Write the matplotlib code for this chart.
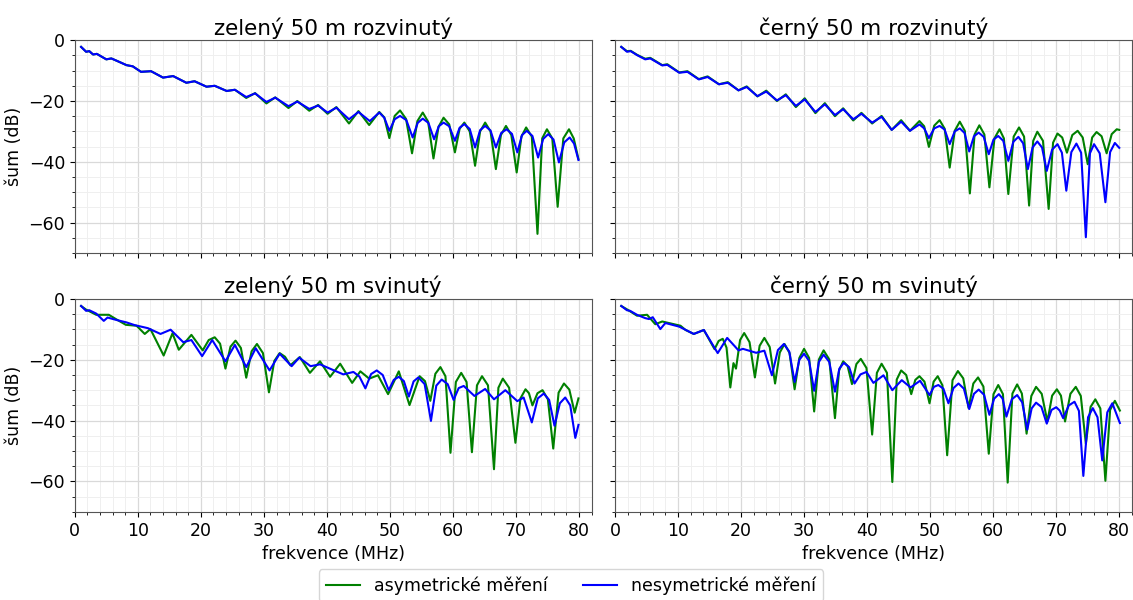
import matplotlib.pyplot as plt
from matplotlib.ticker import AutoMinorLocator, MultipleLocator

# --- data (frequency in MHz, noise in dB) ---
titles = ['zelený 50 m rozvinutý', 'černý 50 m rozvinutý',
          'zelený 50 m svinutý', 'černý 50 m svinutý']
labels = ['asymetrické měření', 'nesymetrické měření']

# zelený rozvinutý
tl_asym_x = [1.0, 1.8, 2.3, 2.9, 3.5, 5.0, 5.8, 6.8, 8.2, 9.2, 10.5, 12.1, 14.0, 15.6, 17.7, 19.0,
             20.9, 22.2, 24.1, 25.4, 27.2, 28.6, 30.4, 31.8, 33.9, 35.3, 37.2, 38.6, 40.1, 41.5,
             43.5, 45.0, 46.7, 48.3, 49.1, 49.9, 50.75, 51.6, 52.55, 53.5, 54.35, 55.2, 56.05,
             56.9, 57.7, 58.5, 59.4, 60.3, 61.05, 61.8, 62.65, 63.5, 64.3, 65.1, 65.95, 66.8,
             67.6, 68.4, 69.25, 70.1, 70.85, 71.6, 72.5, 73.4, 74.15, 74.9, 75.75, 76.6, 77.5,
             78.4, 79.15, 79.9]
tl_asym = [-2.2, -3.8, -3.6, -4.7, -4.5, -6.3, -6.0, -6.9, -8.2, -8.6, -10.4, -10.2, -12.3, -11.8,
           -14.0, -13.5, -15.3, -15.0, -16.7, -16.3, -19.0, -17.4, -20.8, -18.8, -22.3, -20.0,
           -23.2, -21.3, -24.2, -22.0, -27.4, -23.3, -27.9, -23.6, -25.4, -32.2, -24.9, -23.1,
           -25.9, -37.2, -26.6, -23.8, -26.8, -38.9, -28.5, -25.5, -27.7, -36.9, -29.1, -27.1,
           -30.0, -41.3, -30.0, -27.1, -30.0, -42.4, -31.2, -28.2, -31.2, -43.5, -31.7, -28.7,
           -31.7, -63.7, -32.3, -29.3, -32.3, -54.8, -32.3, -29.3, -32.3, -39.1]
tl_nesym_x = [1.0, 1.8, 2.3, 2.9, 3.5, 5.0, 5.8, 6.8, 8.2, 9.2, 10.5, 12.1, 14.0, 15.6, 17.7, 19.0,
              20.9, 22.2, 24.1, 25.4, 27.2, 28.6, 30.4, 31.8, 33.9, 35.3, 37.2, 38.6, 40.1, 41.5,
              43.5, 45.0, 46.8, 48.3, 49.1, 49.9, 50.75, 51.6, 52.6, 53.6, 54.4, 55.2, 56.1,
              57.0, 57.75, 58.5, 59.4, 60.3, 61.05, 61.8, 62.65, 63.5, 64.3, 65.1, 65.95, 66.8,
              67.65, 68.5, 69.35, 70.2, 70.95, 71.7, 72.6, 73.5, 74.3, 75.1, 75.95, 76.8, 77.65,
              78.5, 79.2, 79.9]
tl_nesym = [-2.2, -3.8, -3.6, -4.7, -4.5, -6.3, -6.0, -6.9, -8.2, -8.6, -10.4, -10.2, -12.3, -11.8,
            -14.0, -13.5, -15.3, -15.0, -16.7, -16.3, -18.7, -17.5, -20.3, -18.9, -21.7, -20.2,
            -22.6, -21.5, -23.8, -22.2, -26.0, -23.6, -26.6, -23.8, -25.5, -29.8, -26.0, -24.9,
            -26.3, -32.0, -27.2, -25.8, -27.2, -32.6, -28.3, -27.1, -28.3, -33.1, -28.8, -27.6,
            -29.2, -35.3, -29.6, -28.2, -29.7, -35.3, -30.5, -29.3, -30.8, -36.9, -31.2, -29.8,
            -31.5, -38.6, -32.5, -30.9, -32.7, -40.2, -33.6, -32.0, -34.0, -39.4]

# černý rozvinutý
tr_asym_x = [1.0, 1.9, 2.5, 3.5, 4.8, 5.6, 7.5, 8.3, 10.2, 11.5, 13.3, 14.7, 16.5, 17.9, 19.6,
             20.9, 22.6, 24.0, 25.7, 27.1, 28.7, 30.1, 31.8, 33.3, 34.9, 36.2, 37.8, 39.1, 40.8,
             42.3, 43.9, 45.4, 46.8, 48.3, 49.05, 49.8, 50.65, 51.5, 52.3, 53.1, 53.9, 54.7, 55.5,
             56.3, 57.05, 57.8, 58.6, 59.4, 60.2, 61.0, 61.7, 62.4, 63.25, 64.1, 64.9, 65.7,
             66.35, 67.0, 67.9, 68.8, 69.5, 70.2, 70.95, 71.7, 72.55, 73.4, 74.2, 75.0, 75.7,
             76.4, 77.2, 78.0, 78.8, 79.6, 80.0]
tr_asym = [-2.2, -3.6, -3.5, -4.8, -6.1, -5.8, -8.2, -7.9, -10.6, -10.2, -12.8, -11.9, -14.5, -13.8,
           -16.5, -15.2, -18.5, -16.6, -20.0, -17.8, -22.0, -19.1, -24.0, -20.7, -25.0, -22.4,
           -26.4, -23.9, -27.4, -24.9, -29.5, -26.3, -29.8, -26.6, -28.3, -35.1, -28.1, -26.3,
           -29.1, -41.9, -29.8, -26.8, -29.8, -50.4, -31.0, -28.0, -31.0, -48.4, -32.3, -29.3,
           -32.3, -50.6, -31.7, -28.7, -31.7, -54.4, -33.1, -30.1, -33.1, -55.5, -33.7, -30.7,
           -32.0, -37.0, -31.2, -29.8, -32.0, -40.8, -32.0, -30.2, -31.6, -37.2, -30.9, -29.3,
           -29.5]
tr_nesym_x = [1.0, 1.9, 2.5, 3.5, 4.8, 5.6, 7.5, 8.3, 10.2, 11.5, 13.3, 14.7, 16.5, 17.9, 19.6,
              20.9, 22.6, 24.0, 25.7, 27.1, 28.7, 30.1, 31.8, 33.3, 34.9, 36.2, 37.8, 39.1, 40.8,
              42.3, 43.9, 45.4, 46.8, 48.3, 49.05, 49.8, 50.65, 51.5, 52.3, 53.1, 53.9, 54.7,
              55.45, 56.2, 56.95, 57.7, 58.5, 59.3, 60.05, 60.8, 61.6, 62.4, 63.2, 64.0, 64.75,
              65.5, 66.25, 67.0, 67.75, 68.5, 69.35, 70.2, 70.9, 71.6, 72.4, 73.2, 73.95, 74.7,
              75.35, 76.0, 76.9, 77.8, 78.55, 79.3, 80.0]
tr_nesym = [-2.2, -3.8, -3.6, -4.9, -6.3, -6.0, -8.3, -8.1, -10.7, -10.4, -12.9, -12.1, -14.5, -14.0,
            -16.5, -15.4, -18.4, -16.9, -19.8, -18.1, -21.6, -19.5, -23.6, -21.1, -24.6, -22.7,
            -26.0, -24.2, -27.1, -25.2, -29.5, -26.8, -29.8, -27.7, -29.0, -32.2, -29.0, -28.2,
            -29.4, -34.2, -30.0, -29.0, -30.5, -36.6, -31.6, -30.4, -31.8, -37.5, -32.7, -31.5,
            -33.1, -39.7, -33.4, -31.8, -33.9, -42.4, -35.3, -33.3, -35.3, -43.0, -36.0, -34.2,
            -37.0, -49.5, -36.8, -34.0, -37.0, -64.8, -37.2, -34.2, -37.2, -53.3, -36.8, -33.8,
            -35.4]

# zelený svinutý
bl_asym_x = [1.0, 1.8, 3.4, 5.4, 6.6, 8.1, 9.8, 11.1, 12.0, 14.1, 15.5, 16.5, 18.5, 20.3, 21.25,
             22.2, 23.05, 23.9, 24.7, 25.5, 26.35, 27.2, 28.05, 28.9, 29.85, 30.8, 31.65, 32.5,
             33.35, 34.2, 35.7, 37.3, 38.9, 40.5, 42.1, 44.0, 45.3, 46.7, 48.1, 49.7, 51.4, 53.1,
             54.7, 55.55, 56.4, 57.2, 58.0, 58.8, 59.6, 60.45, 61.3, 62.15, 63.0, 63.8, 64.6,
             65.55, 66.5, 67.2, 67.9, 68.9, 69.9, 70.7, 71.5, 72.05, 72.6, 73.4, 74.2, 75.05,
             75.9, 76.75, 77.6, 78.45, 79.3, 79.9]
bl_asym = [-2.3, -3.5, -5.2, -5.2, -6.7, -8.5, -8.8, -11.5, -9.9, -18.6, -11.3, -16.7, -11.8,
           -16.9, -13.5, -12.6, -14.7, -22.9, -15.7, -13.7, -16.1, -25.9, -17.2, -14.8, -17.8,
           -30.7, -20.4, -17.8, -19.0, -21.8, -19.1, -24.3, -20.5, -25.6, -21.3, -27.6, -23.8,
           -26.2, -25.1, -31.3, -23.8, -34.9, -25.4, -27.0, -33.5, -24.6, -22.4, -25.4, -50.6,
           -27.3, -24.3, -27.3, -50.4, -28.4, -25.4, -28.4, -56.0, -29.2, -26.2, -29.2, -47.3,
           -32.7, -29.7, -31.0, -35.0, -31.0, -30.0, -33.0, -49.2, -30.8, -27.8, -29.8, -37.4,
           -32.7]
bl_nesym_x = [1.0, 1.8, 2.3, 3.4, 4.6, 5.2, 6.6, 8.2, 9.5, 11.6, 13.6, 15.2, 17.2, 18.5, 20.2,
              21.8, 23.9, 25.4, 27.2, 28.7, 30.9, 32.5, 34.4, 35.6, 37.4, 38.9, 40.8, 42.6, 44.2,
              45.15, 46.1, 47.0, 47.9, 48.85, 49.8, 50.6, 51.4, 52.2, 53.0, 53.75, 54.5, 55.5,
              56.5, 57.35, 58.2, 59.15, 60.1, 60.9, 61.7, 63.4, 65.1, 66.5, 68.3, 70.2, 71.2,
              72.5, 73.45, 74.4, 75.25, 76.1, 76.95, 77.8, 78.6, 79.4, 79.9]
bl_nesym = [-2.3, -3.9, -3.7, -4.8, -7.2, -6.1, -6.9, -7.7, -8.6, -9.6, -11.5, -10.1, -14.2, -13.5,
            -18.8, -13.5, -20.5, -15.1, -22.4, -16.2, -23.5, -18.0, -22.1, -19.3, -22.1, -21.5,
            -23.2, -24.8, -24.0, -25.5, -29.4, -24.7, -23.5, -25.0, -30.0, -26.6, -25.6, -27.0,
            -32.1, -27.1, -25.8, -28.0, -40.1, -28.5, -26.5, -28.0, -33.2, -29.3, -28.6, -31.9,
            -29.6, -33.0, -30.0, -33.6, -32.4, -40.6, -32.7, -31.1, -33.2, -41.7, -34.3, -32.4,
            -35.0, -45.7, -41.4]

# černý svinutý
br_asym_x = [1.0, 1.9, 3.5, 5.1, 6.4, 7.5, 10.4, 11.2, 12.5, 14.1, 15.8, 16.45, 17.1, 17.7, 18.3,
             18.8, 19.2, 19.85, 20.5, 21.35, 22.2, 22.95, 23.7, 24.55, 25.4, 26.15, 26.9, 27.7,
             28.5, 29.25, 30.0, 30.8, 31.6, 32.35, 33.1, 34.0, 34.9, 35.55, 36.2, 36.9, 37.6,
             38.3, 39.0, 39.9, 40.8, 41.55, 42.3, 43.15, 44.0, 44.7, 45.4, 46.2, 47.0, 47.65,
             48.3, 49.1, 49.9, 50.55, 51.2, 51.95, 52.7, 53.55, 54.4, 55.25, 56.1, 56.85, 57.6,
             58.45, 59.3, 60.05, 60.8, 61.55, 62.3, 63.05, 63.8, 64.55, 65.3, 66.05, 66.8, 67.7,
             68.6, 69.35, 70.1, 70.75, 71.4, 72.25, 73.1, 73.9, 74.7, 75.45, 76.2, 77.0, 77.8,
             78.55, 79.3, 80.1]
br_asym = [-2.3, -3.4, -5.5, -5.2, -8.3, -7.4, -8.8, -10.2, -11.5, -10.2, -16.5, -13.8, -13.1,
           -16.0, -29.1, -21.1, -22.9, -13.5, -11.2, -14.2, -25.8, -15.4, -12.8, -15.8, -27.8,
           -17.6, -14.8, -17.8, -29.7, -19.4, -16.4, -19.4, -37.0, -19.9, -16.9, -19.9, -39.2,
           -23.5, -20.5, -22.0, -28.0, -21.4, -19.7, -22.7, -44.6, -24.3, -21.3, -24.3, -60.2,
           -26.5, -23.5, -25.0, -31.3, -26.6, -25.4, -27.2, -34.3, -27.2, -25.4, -28.4, -51.4,
           -26.7, -23.7, -26.1, -35.9, -27.8, -25.8, -28.8, -50.9, -31.3, -28.3, -31.3, -60.4,
           -31.1, -28.1, -31.1, -44.3, -31.9, -28.9, -31.2, -40.3, -31.8, -29.7, -31.8, -40.3,
           -31.2, -28.9, -31.9, -47.6, -35.5, -33.0, -36.0, -59.8, -36.5, -33.5, -36.7]
br_nesym_x = [1.0, 1.9, 2.4, 3.5, 4.8, 5.4, 6.0, 7.2, 8.0, 10.2, 12.5, 14.1, 16.3, 17.8, 19.6,
              20.3, 22.4, 23.7, 24.9, 25.85, 26.8, 27.65, 28.5, 29.25, 30.0, 30.8, 31.6, 32.35,
              33.1, 34.0, 34.9, 35.6, 36.3, 37.15, 38.0, 38.95, 39.9, 41.0, 42.6, 44.0, 45.5,
              46.9, 48.4, 49.9, 50.6, 51.3, 52.1, 52.9, 53.7, 54.5, 55.35, 56.2, 56.95, 57.7,
              58.55, 59.4, 60.15, 60.9, 61.5, 62.1, 62.95, 63.8, 64.6, 65.4, 66.1, 66.8, 67.65,
              68.5, 69.25, 70.0, 70.55, 71.1, 72.0, 72.9, 73.6, 74.3, 75.05, 75.8, 76.55, 77.3,
              78.1, 78.9, 80.1]
br_nesym = [-2.3, -3.7, -3.9, -5.2, -6.3, -6.6, -6.0, -9.9, -7.9, -9.1, -11.5, -10.2, -17.8, -12.8,
            -16.9, -16.4, -17.7, -17.0, -25.1, -16.8, -14.8, -17.3, -27.3, -20.0, -18.0, -20.4,
            -30.2, -20.7, -18.3, -20.7, -30.5, -22.9, -21.0, -22.4, -27.8, -24.8, -24.0, -27.6,
            -25.1, -30.0, -26.7, -29.1, -26.9, -31.6, -28.9, -28.3, -29.5, -34.3, -29.3, -27.8,
            -29.5, -36.2, -31.2, -29.8, -31.5, -38.1, -32.8, -31.3, -32.8, -38.7, -33.0, -31.6,
            -34.0, -43.0, -36.0, -34.1, -35.5, -41.0, -36.5, -35.6, -36.7, -39.2, -35.0, -33.8,
            -36.8, -58.2, -38.9, -35.9, -38.9, -53.1, -37.3, -34.3, -40.8]

panels = [
    (tl_asym_x, tl_asym, tl_nesym_x, tl_nesym),
    (tr_asym_x, tr_asym, tr_nesym_x, tr_nesym),
    (bl_asym_x, bl_asym, bl_nesym_x, bl_nesym),
    (br_asym_x, br_asym, br_nesym_x, br_nesym),
]

fig, axes = plt.subplots(2, 2, figsize=(11.33, 6), dpi=100, sharex=True, sharey=True)
fig.subplots_adjust(left=0.066, right=0.999, top=0.933, bottom=0.147, wspace=0.045, hspace=0.216)

for ax, title, (xa, ya, xn, yn) in zip(axes.flat, titles, panels):
    ax.plot(xa, ya, color='green', lw=1.5, label=labels[0])
    ax.plot(xn, yn, color='blue', lw=1.5, label=labels[1])
    ax.set_title(title, fontsize=15.5, pad=4)
    ax.set_xlim(0, 82)
    ax.set_ylim(-70, 0)
    ax.xaxis.set_major_locator(MultipleLocator(10))
    ax.yaxis.set_major_locator(MultipleLocator(20))
    ax.xaxis.set_minor_locator(AutoMinorLocator())
    ax.yaxis.set_minor_locator(AutoMinorLocator())
    ax.grid(which='major', color='#d9d9d9', lw=0.9)
    ax.grid(which='minor', color='#efefef', lw=0.7)
    ax.set_axisbelow(True)
    ax.tick_params(labelsize=12.5)
    for s in ax.spines.values():
        s.set_color('#555555')

for ax in axes[:, 0]:
    ax.set_ylabel('šum (dB)', fontsize=12.5)
for ax in axes[1, :]:
    ax.set_xlabel('frekvence (MHz)', fontsize=12.5)

handles, labs = axes[0, 0].get_legend_handles_labels()
fig.legend(handles, labs, loc='center', bbox_to_anchor=(0.504, 0.024), ncol=2,
           fontsize=12.5, frameon=True, columnspacing=2.0)

fig.savefig('out.png', dpi=100)
